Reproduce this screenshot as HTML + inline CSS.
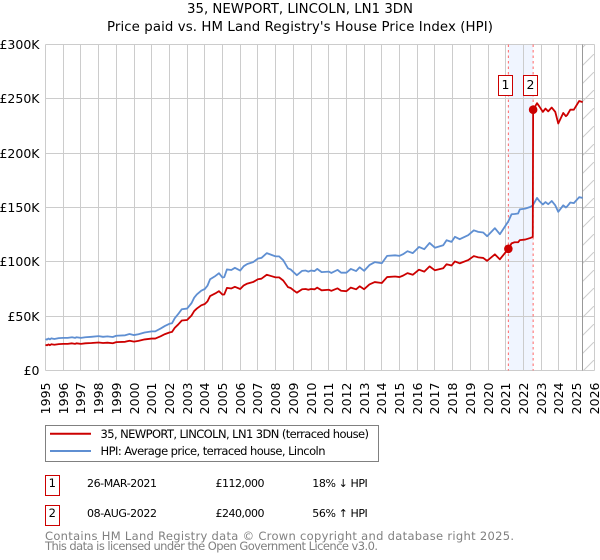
<!DOCTYPE html>
<html lang="en">
<head>
<meta charset="utf-8">
<title>35, NEWPORT, LINCOLN, LN1 3DN</title>
<style>
html,body{margin:0;padding:0;background:#fff;width:600px;height:560px;overflow:hidden}
svg{display:block;font-family:"DejaVu Sans","Liberation Sans",sans-serif;fill:#000}
</style>
</head>
<body>
<svg id="chart" width="600" height="560" viewBox="0 0 600 560" xmlns="http://www.w3.org/2000/svg">
<defs>
<pattern id="hatch" patternUnits="userSpaceOnUse" width="18" height="18">
<path d="M0 18L18 0" stroke="#cccccc" stroke-width="1" fill="none"/>
</pattern>
</defs>
<rect x="0" y="0" width="600" height="560" fill="#ffffff"/>
<text x="300" y="13" font-size="13.3" text-anchor="middle" fill="#000" textLength="226" lengthAdjust="spacing">35, NEWPORT, LINCOLN, LN1 3DN</text>
<text x="300" y="31" font-size="13.3" text-anchor="middle" fill="#000" textLength="386" lengthAdjust="spacing">Price paid vs. HM Land Registry's House Price Index (HPI)</text>
<g id="bands"></g>
<g id="grid"></g>
<g id="hatching"></g>
<g id="sales-lines"></g>
<g id="series"></g>
<g id="markers"></g>
<g id="ylabels"></g>
<g id="xlabels"></g>

<g>
<rect x="45.5" y="425.5" width="333" height="36" fill="#fff" stroke="#808080" stroke-width="1"/>
<line x1="50" x2="91" y1="433.7" y2="433.7" stroke="#cc0000" stroke-width="2"/>
<text x="100.5" y="438" font-size="11.5" textLength="268.5" lengthAdjust="spacing">35, NEWPORT, LINCOLN, LN1 3DN (terraced house)</text>
<line x1="50" x2="91" y1="451" y2="451" stroke="#5f8fd2" stroke-width="2"/>
<text x="100.5" y="455" font-size="11.5" textLength="225" lengthAdjust="spacing">HPI: Average price, terraced house, Lincoln</text>
</g>

<g>
<rect x="45.5" y="475.5" width="14" height="20" fill="#fff" stroke="#cc0000" stroke-width="1"/>
<text x="52.3" y="487" font-size="11.5" text-anchor="middle">1</text>
<text x="87" y="487" font-size="11" textLength="70" lengthAdjust="spacing">26-MAR-2021</text>
<text x="215.5" y="487" font-size="11" textLength="49" lengthAdjust="spacing">£112,000</text>
<text x="312.3" y="487" font-size="11" textLength="55.5" lengthAdjust="spacing">18% ↓ HPI</text>
<rect x="45.5" y="505.5" width="14" height="20" fill="#fff" stroke="#cc0000" stroke-width="1"/>
<text x="52.3" y="517" font-size="11.5" text-anchor="middle">2</text>
<text x="87" y="517" font-size="11" textLength="70" lengthAdjust="spacing">08-AUG-2022</text>
<text x="215.5" y="517" font-size="11" textLength="49" lengthAdjust="spacing">£240,000</text>
<text x="312.3" y="517" font-size="11" textLength="55.5" lengthAdjust="spacing">56% ↑ HPI</text>
</g>

<text x="45" y="540" font-size="11.5" fill="#808080" textLength="469" lengthAdjust="spacing">Contains HM Land Registry data © Crown copyright and database right 2025.</text>
<text x="45" y="550" font-size="11.5" fill="#808080" textLength="333" lengthAdjust="spacing">This data is licensed under the Open Government Licence v3.0.</text>
</svg>

<script>
var yearTicks = [1995,1996,1997,1998,1999,2000,2001,2002,2003,2004,2005,2006,2007,2008,2009,2010,2011,2012,2013,2014,2015,2016,2017,2018,2019,2020,2021,2022,2023,2024,2025,2026];
var valueTicks = [0,50,100,150,200,250,300];
var valueTickLabels = ['£0','£50K','£100K','£150K','£200K','£250K','£300K'];
var years = [1995,1995.08,1995.17,1995.25,1995.33,1995.5,1995.75,1996,1996.25,1996.5,1996.67,1996.75,1997,1997.25,1997.6,1998,1998.25,1998.5,1998.8,1999,1999.5,1999.75,2000,2000.25,2000.6,2001,2001.2,2001.5,2001.75,2002,2002.15,2002.3,2002.5,2002.7,2003,2003.25,2003.4,2003.55,2003.8,2004,2004.15,2004.3,2004.6,2004.8,2005,2005.1,2005.25,2005.5,2005.7,2006,2006.2,2006.4,2006.73,2007,2007.2,2007.5,2007.75,2008,2008.2,2008.43,2008.7,2008.85,2009,2009.2,2009.5,2009.7,2009.85,2010,2010.2,2010.35,2010.6,2011,2011.15,2011.5,2011.7,2012,2012.25,2012.55,2012.75,2013,2013.3,2013.6,2014,2014.3,2014.75,2015,2015.2,2015.45,2015.75,2016.1,2016.4,2016.7,2017,2017.47,2017.66,2017.94,2018.13,2018.4,2018.88,2019.2,2019.45,2019.73,2019.95,2020.39,2020.67,2021.15,2021.33,2021.5,2021.7,2021.8,2022.1,2022.4,2022.53,2022.55,2022.77,2022.9,2023.1,2023.25,2023.4,2023.6,2023.8,2023.97,2024.25,2024.4,2024.47,2024.65,2024.85,2025.15,2025.35];
var hpiValues = [29,28.4,29.4,28.6,29.6,29,29.8,30,30,30.6,30,30.6,30,30.6,31,31.6,31,31.4,30.8,32,32.4,33.6,32.6,33.4,35,36,36,38.6,41,43,43.5,48,52,56.4,57,62,67,70,73.5,75,78,84,87,89.5,85.5,86,93,92.5,94.5,92,96,98,99.7,103,103.6,108,106.5,105,105,101.5,94,93,90.7,87.7,91.7,92,91,92,91.5,93.5,90.5,91,89.8,92.6,90,90,93.5,91.5,95,91.7,97,99.7,98.7,105.5,106,105.5,107,109.8,108,113.7,111.6,117.4,113,115.3,119.9,118.4,123,120.8,124.5,129,127.6,127,123.6,131,125.4,137.3,143.8,144,144.5,148.3,149,150.6,152,152.5,158.8,156,152.8,155,153,156,152,146,152,150,151,154.6,154,159.5,158.8];
var paidValues = [23.7,23.2,24,23.3,24.2,23.7,24.3,24.5,24.5,25,24.5,25,24.5,25,25.3,25.8,25.3,25.6,25.1,26.1,26.4,27.4,26.6,27.3,28.6,29.4,29.4,31.5,33.5,35,35.5,39.2,42.4,46,46.5,50.6,54.7,57,60,61.2,63.6,68.5,71,73,69.8,70,76,75.5,77,75,78.3,80,81.4,84,84.5,88.1,86.9,85.7,85.7,82.8,76.7,75.9,74,71.6,74.8,75,74.3,75,74.7,76.3,73.8,74.3,73.3,75.6,73.4,73,76.3,74.7,77.5,74.8,79.2,81.4,80.5,86,86.5,86,87.3,89.6,88.1,92.8,91,95.8,92.2,94.1,97.8,96.6,100.4,98.6,101.6,105.3,104.1,103.6,100.9,106.9,102.3,112,117,118,118,120,120.5,122,123,240,246,243,238,241,238.5,242,238,227.3,237,234,235,240,240,248,247];
var saleYears = [2021.15,2022.55];
var salePrices = [112,240];
var saleNumbers = ['1','2'];

var NS = 'http://www.w3.org/2000/svg';
var plotLeft = 45.5, yearWidth = 17.7, plotBottom = 370.5, plotTop = 44.5;
function xScale(year){ return plotLeft + (year - yearTicks[0]) * yearWidth; }
function yScale(value){ return plotBottom - value / valueTicks[valueTicks.length-1] * (plotBottom - plotTop); }
function crisp(v){ return Math.floor(v) + 0.5; }
function make(tag, attrs){
  var el = document.createElementNS(NS, tag);
  for (var k in attrs) el.setAttribute(k, attrs[k]);
  return el;
}
var gridG = document.getElementById('grid');
yearTicks.forEach(function(y){
  var x = crisp(xScale(y));
  var l = make('line', {x1:x, x2:x, y1:plotTop, y2:plotBottom, stroke:'#cccccc', 'stroke-width':1});
  
  
  gridG.appendChild(l);
  var t = make('text', {transform:'translate(' + (x + 4.5) + ',382.5) rotate(-90)', 'font-size':12.5, 'text-anchor':'end', fill:'#000'});
  
  
  t.textContent = y;
  document.getElementById('xlabels').appendChild(t);
});
valueTicks.forEach(function(v, i){
  var y = crisp(yScale(v));
  var l = make('line', {x1:plotLeft, x2:crisp(xScale(yearTicks[yearTicks.length-1])), y1:y, y2:y, stroke:'#cccccc', 'stroke-width':1});
  
  
  gridG.appendChild(l);
  var t = make('text', {x:39.5, y:y + 4.5, 'font-size':12.5, 'text-anchor':'end', fill:'#000'});
  
  
  t.textContent = valueTickLabels[i];
  document.getElementById('ylabels').appendChild(t);
});

var band = make('rect', {x:xScale(saleYears[0]), y:plotTop, width:xScale(saleYears[1]) - xScale(saleYears[0]), height:plotBottom - plotTop, fill:'#f0f5ff'});


document.getElementById('bands').appendChild(band);

var hatchLeft = xScale(years[years.length-1]);
var hatchRight = xScale(yearTicks[yearTicks.length-1]);
var hatch = make('rect', {x:hatchLeft, y:plotTop, width:hatchRight - hatchLeft, height:plotBottom - plotTop, fill:'url(#hatch)'});


document.getElementById('hatching').appendChild(hatch);
var hatchEdge = make('line', {x1:crisp(hatchLeft), x2:crisp(hatchLeft), y1:plotTop, y2:plotBottom, stroke:'#999999', 'stroke-width':1});


document.getElementById('hatching').appendChild(hatchEdge);

saleYears.forEach(function(y){
  var x = xScale(y);
  var l = make('line', {x1:x, x2:x, y1:plotTop, y2:plotBottom, stroke:'#ff6666', 'stroke-width':1, 'stroke-dasharray':'2.5 3'});
  
  
  document.getElementById('sales-lines').appendChild(l);
});

function linePath(values){
  return values.map(function(v, i){ return (i ? 'L' : 'M') + xScale(years[i]).toFixed(2) + ' ' + yScale(v).toFixed(2); }).join('');
}
var hpiLine = make('path', {d:linePath(hpiValues), fill:'none', stroke:'#5f8fd2', 'stroke-width':1.8, 'stroke-linejoin':'round'});


document.getElementById('series').appendChild(hpiLine);
var paidLine = make('path', {d:linePath(paidValues), fill:'none', stroke:'#cc0000', 'stroke-width':1.8, 'stroke-linejoin':'round'});


document.getElementById('series').appendChild(paidLine);

saleYears.forEach(function(y, i){
  var x = xScale(y);
  var c = make('circle', {cx:x, cy:yScale(salePrices[i]), r:4.3, fill:'#cc0000'});
  
  
  document.getElementById('markers').appendChild(c);
  var b = make('rect', {x:Math.floor(x - 10) + 0.5, y:75.5, width:14, height:20, fill:'#ffffff', stroke:'#cc0000', 'stroke-width':1});
  
  
  document.getElementById('markers').appendChild(b);
  var t = make('text', {x:Math.floor(x - 10) + 7.5, y:89, 'font-size':12.5, 'text-anchor':'middle', fill:'#000'});
  
  
  t.textContent = saleNumbers[i];
  document.getElementById('markers').appendChild(t);
});
</script>
</body>
</html>
